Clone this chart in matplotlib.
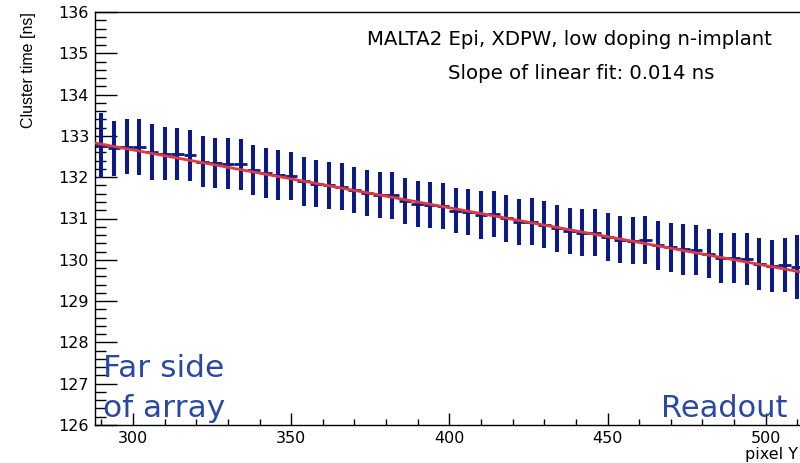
import matplotlib
matplotlib.use("Agg")
import matplotlib.pyplot as plt
from matplotlib.ticker import MultipleLocator

plt.rcParams['font.family'] = ['DejaVu Sans']

# ---- data ----
pixel_y = [290, 294, 298, 302, 306, 310, 314, 318, 322, 326,
           330, 334, 338, 342, 346, 350, 354, 358, 362, 366,
           370, 374, 378, 382, 386, 390, 394, 398, 402, 406,
           410, 414, 418, 422, 426, 430, 434, 438, 442, 446,
           450, 454, 458, 462, 466, 470, 474, 478, 482, 486,
           490, 494, 498, 502, 506, 510]
cluster_time = [132.76, 132.70, 132.74, 132.73, 132.61, 132.57, 132.56, 132.53, 132.38, 132.34,
                132.33, 132.31, 132.17, 132.10, 132.06, 132.03, 131.90, 131.84, 131.80, 131.77,
                131.69, 131.61, 131.57, 131.56, 131.43, 131.35, 131.33, 131.30, 131.19, 131.15,
                131.09, 131.10, 131.01, 130.92, 130.92, 130.85, 130.76, 130.70, 130.65, 130.65,
                130.55, 130.49, 130.46, 130.47, 130.35, 130.30, 130.25, 130.24, 130.15, 130.04,
                130.04, 130.02, 129.90, 129.86, 129.87, 129.83]
time_err = [0.79, 0.67, 0.66, 0.68, 0.68, 0.64, 0.63, 0.62, 0.62, 0.60,
            0.61, 0.61, 0.61, 0.60, 0.60, 0.59, 0.60, 0.57, 0.57, 0.57,
            0.56, 0.56, 0.56, 0.56, 0.56, 0.56, 0.56, 0.56, 0.55, 0.56,
            0.58, 0.56, 0.57, 0.56, 0.57, 0.57, 0.56, 0.56, 0.57, 0.57,
            0.58, 0.57, 0.57, 0.58, 0.59, 0.59, 0.61, 0.60, 0.60, 0.61,
            0.61, 0.63, 0.63, 0.63, 0.65, 0.77]
bin_half_width = 2
fit_intercept = 136.86
fit_slope = -0.014
fit_range = [288, 520]

title_text = "MALTA2 Epi, XDPW, low doping n-implant"
slope_text = "Slope of linear fit: 0.014 ns"

# ---- figure ----
W, H = 800, 463
fig = plt.figure(figsize=(W / 100, H / 100), dpi=100)
ax = fig.add_axes([95 / W, 1 - 425 / H, 734 / W, (425 - 12) / H])

navy = '#0c1a88'
ax.errorbar(pixel_y, cluster_time, yerr=time_err, fmt='none',
            ecolor=navy, elinewidth=2.9, capsize=0, zorder=2)
ax.errorbar(pixel_y, cluster_time, xerr=[bin_half_width] * len(pixel_y), fmt='none',
            ecolor=navy, elinewidth=2.0, capsize=0, zorder=2)

fx = fit_range
fy = [fit_intercept + fit_slope * v for v in fx]
ax.plot(fx, fy, color='#e23a3c', lw=2.0, zorder=3)

ax.set_xlim(288, 520)
ax.set_ylim(126, 136)

ax.xaxis.set_major_locator(MultipleLocator(50))
ax.xaxis.set_minor_locator(MultipleLocator(10))
ax.yaxis.set_major_locator(MultipleLocator(1))
ax.yaxis.set_minor_locator(MultipleLocator(0.2))

ax.tick_params(axis='both', which='both', direction='in', colors='black',
               labelsize=11.5, top=False, right=False)
ax.tick_params(axis='y', which='major', length=15.8, width=1.0, pad=4.3)
ax.tick_params(axis='y', which='minor', length=7.9, width=1.0)
ax.tick_params(axis='x', which='major', length=8.6, width=1.0, pad=4.0)
ax.tick_params(axis='x', which='minor', length=4.3, width=1.0)
for s in ax.spines.values():
    s.set_linewidth(1.0)

fig.text(28 / W, 1 - 12 / H, "Cluster time [ns]", rotation=90,
         ha='center', va='top', fontsize=11.5, family='Liberation Sans')
fig.text(745 / W, 1 - 459 / H, "pixel Y", ha='left', va='baseline', fontsize=11.5)

fig.text(569 / W, 1 - 45 / H, title_text, ha='center', va='baseline', fontsize=14.2)
fig.text(581 / W, 1 - 79 / H, slope_text, ha='center', va='baseline', fontsize=14.2)

blue = '#2a48a2'
fig.text(103 / W, 1 - 377 / H, "Far side", ha='left', va='baseline', fontsize=22.5, color=blue)
fig.text(103 / W, 1 - 417 / H, "of array", ha='left', va='baseline', fontsize=22.5, color=blue)
fig.text(661 / W, 1 - 417 / H, "Readout", ha='left', va='baseline', fontsize=22, color=blue)

fig.savefig("out.png", dpi=100)
